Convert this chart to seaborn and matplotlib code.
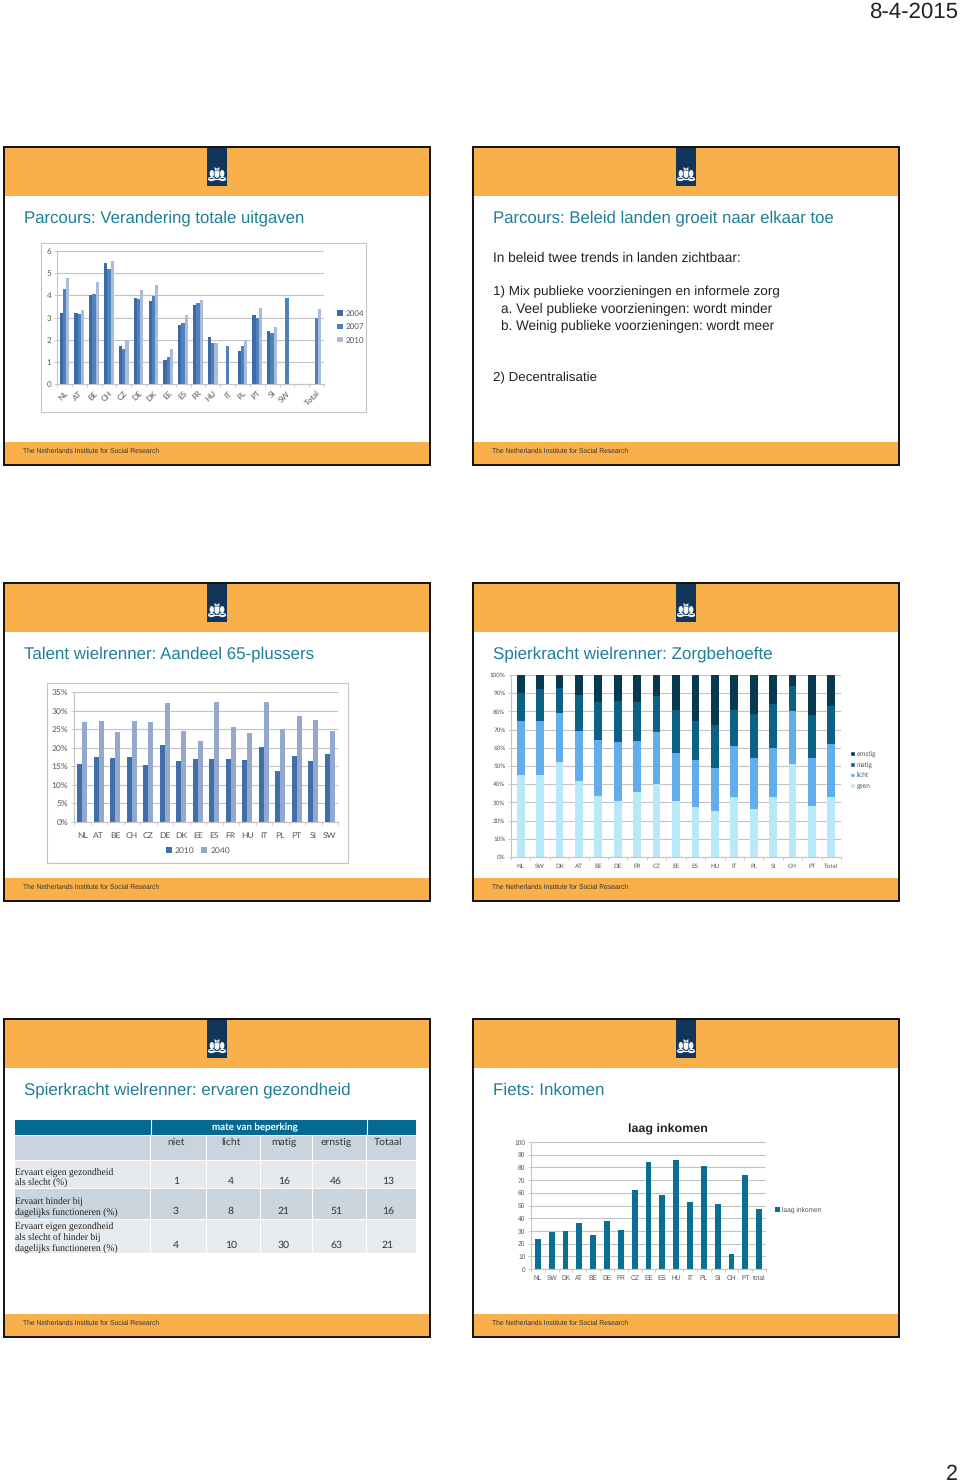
import numpy as np
import pandas as pd
import matplotlib
matplotlib.use("Agg")
import matplotlib.pyplot as plt
from matplotlib.patches import Rectangle, Ellipse, Polygon
from matplotlib.lines import Line2D
import seaborn as sns

# ---------- data ----------
uitgaven_landen = ["NL","AT","BE","CH","CZ","DE","DK","EE","ES","FR","HU","IT","PL","PT","SI","SW"," ","Total"]
uitgaven_2004 = [3.2,3.2,4.0,5.45,1.7,3.9,3.75,1.1,2.65,3.55,2.1,np.nan,1.5,3.1,2.4,np.nan,np.nan,np.nan]
uitgaven_2007 = [4.3,3.15,4.05,5.2,1.6,3.85,3.95,1.2,2.75,3.65,1.85,1.7,1.7,3.0,2.3,3.9,np.nan,3.0]
uitgaven_2010 = [4.8,3.35,4.6,5.55,2.0,4.25,4.45,1.6,3.1,3.8,1.85,np.nan,2.0,3.45,2.55,np.nan,np.nan,3.4]

talent_landen = ["NL","AT","BE","CH","CZ","DE","DK","EE","ES","FR","HU","IT","PL","PT","SI","SW"]
talent_2010 = [15.5,17.6,17.2,17.5,15.3,20.6,16.5,17,17,16.9,16.6,20.2,13.6,17.9,16.5,18.3]
talent_2040 = [27,27.3,24.1,27.3,26.8,32,24.4,21.9,32.3,25.7,23.9,32.2,25,28.5,27.4,24.5]

zorg_landen = ["NL","SW","DK","AT","BE","DE","FR","CZ","EE","ES","HU","IT","PL","SI","CH","PT","Total"]
zorg_geen = [45,44.8,52,41.8,33.5,31,35.5,40.2,31,27.5,25.2,33,26.5,33.2,51,28.2,33.2]
zorg_licht = [29.5,30.2,27,27.7,31,32,28.5,28.3,26,26,23.8,28.2,28,26.8,29.3,26.3,28.8]
zorg_matig = [15.5,17.2,13.8,19.3,20.7,22.8,21,19.7,23.7,21.3,23.5,19.5,24.2,24,13.9,23.7,21.2]
zorg_ernstig = [10,7.8,7.2,11.2,14.8,14.2,15,11.8,19.3,25.2,27.5,19.3,21.3,16,5.8,21.8,16.8]

inkomen_landen = ["NL","SW","DK","AT","BE","DE","FR","CZ","EE","ES","HU","IT","PL","SI","CH","PT","total"]
inkomen_laag = [24,29,30,36,27,38,31,62,84,58,86,53,81,51,12,74,47]

tabel_kolommen = ["niet","licht","matig","ernstig","Totaal"]
tabel_rijen = ["Ervaart eigen gezondheid\nals slecht (%)",
               "Ervaart hinder bij\ndagelijks functioneren (%)",
               "Ervaart eigen gezondheid\nals slecht of hinder bij\ndagelijks functioneren (%)"]
tabel_waarden = [[1,4,16,46,13],[3,8,21,51,16],[4,10,30,63,21]]

# ---------- set-up ----------
W, H = 960, 1483
sns.set_theme(style="white")
plt.rcParams["font.family"] = ["Liberation Sans", "DejaVu Sans"]
plt.rcParams["text.hinting"] = "no_hinting"
fig = plt.figure(figsize=(W/100, H/100), dpi=100, facecolor="white")
bg = fig.add_axes([0, 0, 1, 1])
bg.set_xlim(0, W); bg.set_ylim(H, 0); bg.axis("off")
renderer = fig.canvas.get_renderer()

ORANGE = "#F9B04B"; NAVY = "#12365A"; TEAL = "#1F7F96"; GRID = "#C4C4C4"; TXT = "#555555"
CHART_FONT = "Lato"
BAR = dict(saturation=1, linewidth=0, edgecolor="none", errorbar=None)

def fit(x, y, s, width, size, **kw):
    t = bg.text(x, y, s, fontsize=size, va="center", **kw)
    for _ in range(4):
        w = t.get_window_extent(renderer).width
        t.set_fontsize(t.get_fontsize() * width / w)
    return t

def logo(cx, top):
    bg.add_patch(Rectangle((cx-10, top), 20, 39, fc=NAVY, ec="none", zorder=3))
    c = top + 28
    w = dict(fc="#F4F6F8", ec="none", zorder=4)
    bg.add_patch(Polygon([(cx-2.4,c-4.5),(cx+2.4,c-4.5),(cx+2.4,c+1.5),(cx,c+3.5),(cx-2.4,c+1.5)], **w))
    bg.add_patch(Polygon([(cx-2.4,c-8),(cx,c-6.2),(cx+2.4,c-8),(cx+2.4,c-5.2),(cx-2.4,c-5.2)], **w))
    for sx in (-1, 1):
        bg.add_patch(Ellipse((cx+sx*5.2, c-1.5), 4.4, 7, **w))
        bg.add_patch(Ellipse((cx+sx*5.5, c+4), 6, 3.2, fc="none", ec="#F4F6F8", lw=0.8, zorder=4))
    bg.add_line(Line2D([cx-8, cx+8], [c+4, c+4], color="#F4F6F8", lw=0.8, zorder=4))

def slide(l, t, title=None, title_w=None):
    r, b = l+427, t+320
    bg.add_patch(Rectangle((l, t), 427, 320, fc="white", ec="none", zorder=1))
    bg.add_patch(Rectangle((l, t), 427, 49.5, fc=ORANGE, ec="none", zorder=1))
    bg.add_patch(Rectangle((l, b-24.5), 427, 24.5, fc=ORANGE, ec="none", zorder=1))
    bg.add_patch(Rectangle((l+0.8, t+0.9), 425.7, 318.5, fc="none", ec="#111111", lw=1.4, zorder=5))
    logo(l+214, t+1)
    fit(l+21, t+72, title, title_w, 12, color=TEAL, zorder=6)
    fit(l+20, b-15, "The Netherlands Institute for Social Research", 136, 5, color="#333333", zorder=6)

X1, X2 = 3, 472
Y1, Y2, Y3 = 146, 582, 1018
slide(X1, Y1, "Parcours: Verandering totale uitgaven", 282)
slide(X2, Y1, "Parcours: Beleid landen groeit naar elkaar toe", 341)
slide(X1, Y2, "Talent wielrenner: Aandeel 65-plussers", 291)
slide(X2, Y2, "Spierkracht wielrenner: Zorgbehoefte", 280)
slide(X1, Y3, "Spierkracht wielrenner: ervaren gezondheid", 327)
slide(X2, Y3, "Fiets: Inkomen", 112)

# date + page
fit(869, 12, "8-4-2015", 89, 15, color="#222222")
fit(946, 1474, "2", 12, 16, color="#222222")

# body text slide 2
for y, x, s, w in [(258, 493, "In beleid twee trends in landen zichtbaar:", 249),
                   (292, 493, "1) Mix publieke voorzieningen en informele zorg", 286),
                   (309, 501, "a. Veel publieke voorzieningen: wordt minder", 272),
                   (326, 501, "b. Weinig publieke voorzieningen: wordt meer", 275),
                   (378, 493, "2) Decentralisatie", 105)]:
    fit(x, y, s, w, 9, color="#222222", zorder=6)

# chart frames
for l, t, r, b in [(41, 243, 366, 412), (47, 683, 348, 863)]:
    bg.add_patch(Rectangle((l+1, t+1), r-l, b-t, fc="#AAAAAA", ec="none", zorder=2))
    bg.add_patch(Rectangle((l, t), r-l, b-t, fc="white", ec="#C4C4C4", lw=0.8, zorder=2))

def axes_px(l, t, r, b):
    a = fig.add_axes([l/W, 1-b/H, (r-l)/W, (b-t)/H])
    a.patch.set_alpha(0)
    return a

def style(a, n, ymax, step, fs, fmt=None, xpad=3):
    a.set_xlim(-0.5, n-0.5); a.set_ylim(0, ymax)
    a.set_xlabel(""); a.set_ylabel("")
    yt = np.arange(0, ymax+step/2, step)
    a.set_yticks(yt)
    a.set_yticklabels([fmt % v if fmt else "%d" % v for v in yt], fontsize=fs, color=TXT, family=CHART_FONT)
    a.set_xticks(np.arange(n)); a.set_xticks(np.arange(n+1)-0.5, minor=True)
    a.tick_params(axis="x", which="major", length=0, pad=xpad)
    a.tick_params(axis="x", which="minor", length=2, bottom=True, color=GRID, width=0.6)
    a.tick_params(axis="y", length=2, left=True, color=GRID, width=0.6, pad=2)
    for lab in a.get_xticklabels():
        lab.set_fontsize(fs); lab.set_color(TXT); lab.set_family(CHART_FONT)
    a.yaxis.grid(True, color=GRID, lw=0.8); a.set_axisbelow(True)
    for s in ("top", "right"):
        a.spines[s].set_visible(False)
    for s in ("left", "bottom"):
        a.spines[s].set_color(GRID); a.spines[s].set_linewidth(0.8)

def legend_px(a, handles, labels, x, y, fs, spacing_px, ncol=1, center=False, columnspacing=1.0):
    leg = a.legend(handles, labels, loc="center" if center else "center left",
                   bbox_to_anchor=(x/W, 1-y/H), bbox_transform=fig.transFigure,
                   frameon=False, ncol=ncol, handlelength=0.7, handleheight=0.7,
                   handletextpad=0.35, columnspacing=columnspacing,
                   labelspacing=(spacing_px/(fs*100/72)) - 1, borderpad=0, borderaxespad=0,
                   prop={"family": CHART_FONT, "size": fs}, labelcolor=TXT)
    return leg

# ---------- chart 1 ----------
df1 = pd.DataFrame({"land": uitgaven_landen, "2004": uitgaven_2004, "2007": uitgaven_2007, "2010": uitgaven_2010})
df1 = df1.melt("land", var_name="jaar", value_name="v").dropna()
a1 = axes_px(57, 251, 324, 384)
sns.barplot(data=df1, x="land", y="v", hue="jaar", order=uitgaven_landen, hue_order=["2004","2007","2010"],
            palette=["#3A6BA5","#4F81BD","#A9BCDB"], width=0.66, gap=0, ax=a1, **BAR)
style(a1, len(uitgaven_landen), 6, 1, 5.8, xpad=4)
for lab in a1.get_xticklabels():
    lab.set_rotation(45); lab.set_ha("right"); lab.set_rotation_mode("anchor")
h, l = a1.get_legend_handles_labels()
legend_px(a1, h, l, 337, 327, 5.8, 14)

# ---------- chart 2 ----------
df2 = pd.DataFrame({"land": talent_landen, "2010": talent_2010, "2040": talent_2040})
df2 = df2.melt("land", var_name="jaar", value_name="v")
a2 = axes_px(74, 692, 338, 822)
sns.barplot(data=df2, x="land", y="v", hue="jaar", order=talent_landen, hue_order=["2010","2040"],
            palette=["#3F6EA8","#95A9D0"], width=0.58, gap=0, ax=a2, **BAR)
style(a2, len(talent_landen), 35, 5, 6.1, fmt="%d%%", xpad=7)
h, l = a2.get_legend_handles_labels()
legend_px(a2, h, l, 198, 851, 6.1, 10, ncol=2, center=True, columnspacing=0.8)

# ---------- chart 3 (stacked) ----------
a3 = axes_px(511, 675, 841, 857)
zorg_lagen = [("geen", zorg_geen, "#B9E8F8"), ("licht", zorg_licht, "#62ADEB"),
              ("matig", zorg_matig, "#0B6285"), ("ernstig", zorg_ernstig, "#07394F")]
cum = np.cumsum([z[1] for z in zorg_lagen], axis=0)
handles3 = []
for (naam, _, kleur), hoogte in list(zip(zorg_lagen, cum))[::-1]:
    sns.barplot(x=zorg_landen, y=hoogte, color=kleur, width=0.40, ax=a3, order=zorg_landen, **BAR)
    handles3.append(Rectangle((0, 0), 1, 1, fc=kleur, label=naam))
style(a3, len(zorg_landen), 100, 10, 4.5, fmt="%d%%", xpad=5)
legend_px(a3, handles3, [z[0] for z in zorg_lagen[::-1]], 850, 770, 4.7, 10.7)

# ---------- chart 4 ----------
a4 = axes_px(531, 1142, 766, 1269)
df4 = pd.DataFrame({"land": inkomen_landen, "laag inkomen": inkomen_laag})
sns.barplot(data=df4, x="land", y="laag inkomen", order=inkomen_landen, color="#0B6E93", width=0.42,
            ax=a4, label="laag inkomen", **BAR)
style(a4, len(inkomen_landen), 100, 10, 4.8, xpad=4)
for lab in a4.get_xticklabels() + a4.get_yticklabels():
    lab.set_family("Liberation Sans")
h, l = a4.get_legend_handles_labels()
leg = legend_px(a4, h, l, 775, 1210, 4.8, 10)
for t in leg.get_texts():
    t.set_family("Liberation Sans")
fit(628, 1129, "laag inkomen", 80, 7.5, color="#222222", fontweight="bold", zorder=6)

# ---------- table ----------
kol = [(15,150),(151,206),(207,260),(261,312),(313,366),(367,416)]
rij = [(1136,1160,"#C9D4DE"),(1161,1188,"#E6EAED"),(1189,1219,"#CBD5DE"),(1220,1253,"#E7EBEE")]
for j, (x0, x1) in enumerate(kol):
    for (y0, y1, c) in rij:
        bg.add_patch(Rectangle((x0, y0), x1-x0, y1-y0, fc=c, ec="none", zorder=2))
bg.add_patch(Rectangle((15, 1120), 401, 14.5, fc="#046A94", ec="none", zorder=2))
for x in (150.5, 366.5):
    bg.add_line(Line2D([x, x], [1120, 1135], color="white", lw=0.8, zorder=3))
bg.text(255, 1127, "mate van beperking", ha="center", va="center", fontsize=7, color="white",
        fontweight="bold", family=CHART_FONT, zorder=6)
midden = [176, 231, 284, 336, 388]
for x, s in zip(midden, tabel_kolommen):
    bg.text(x, 1142, s, ha="center", va="center", fontsize=7.5, color="#333333", family=CHART_FONT, zorder=6)
for rij_tekst, waarden, y_val, y_top in zip(tabel_rijen, tabel_waarden, [1181, 1211, 1245], [1173, 1202, 1227]):
    for i, regel in enumerate(rij_tekst.split("\n")):
        bg.text(15, y_top + i*10.7, regel, va="center", fontsize=6.9, color="#222222",
                family="Liberation Serif", zorder=6)
    for x, v in zip(midden, waarden):
        bg.text(x, y_val, str(v), ha="center", va="center", fontsize=7.5, color="#333333",
                family=CHART_FONT, zorder=6)

fig.savefig("out.png", dpi=100)
